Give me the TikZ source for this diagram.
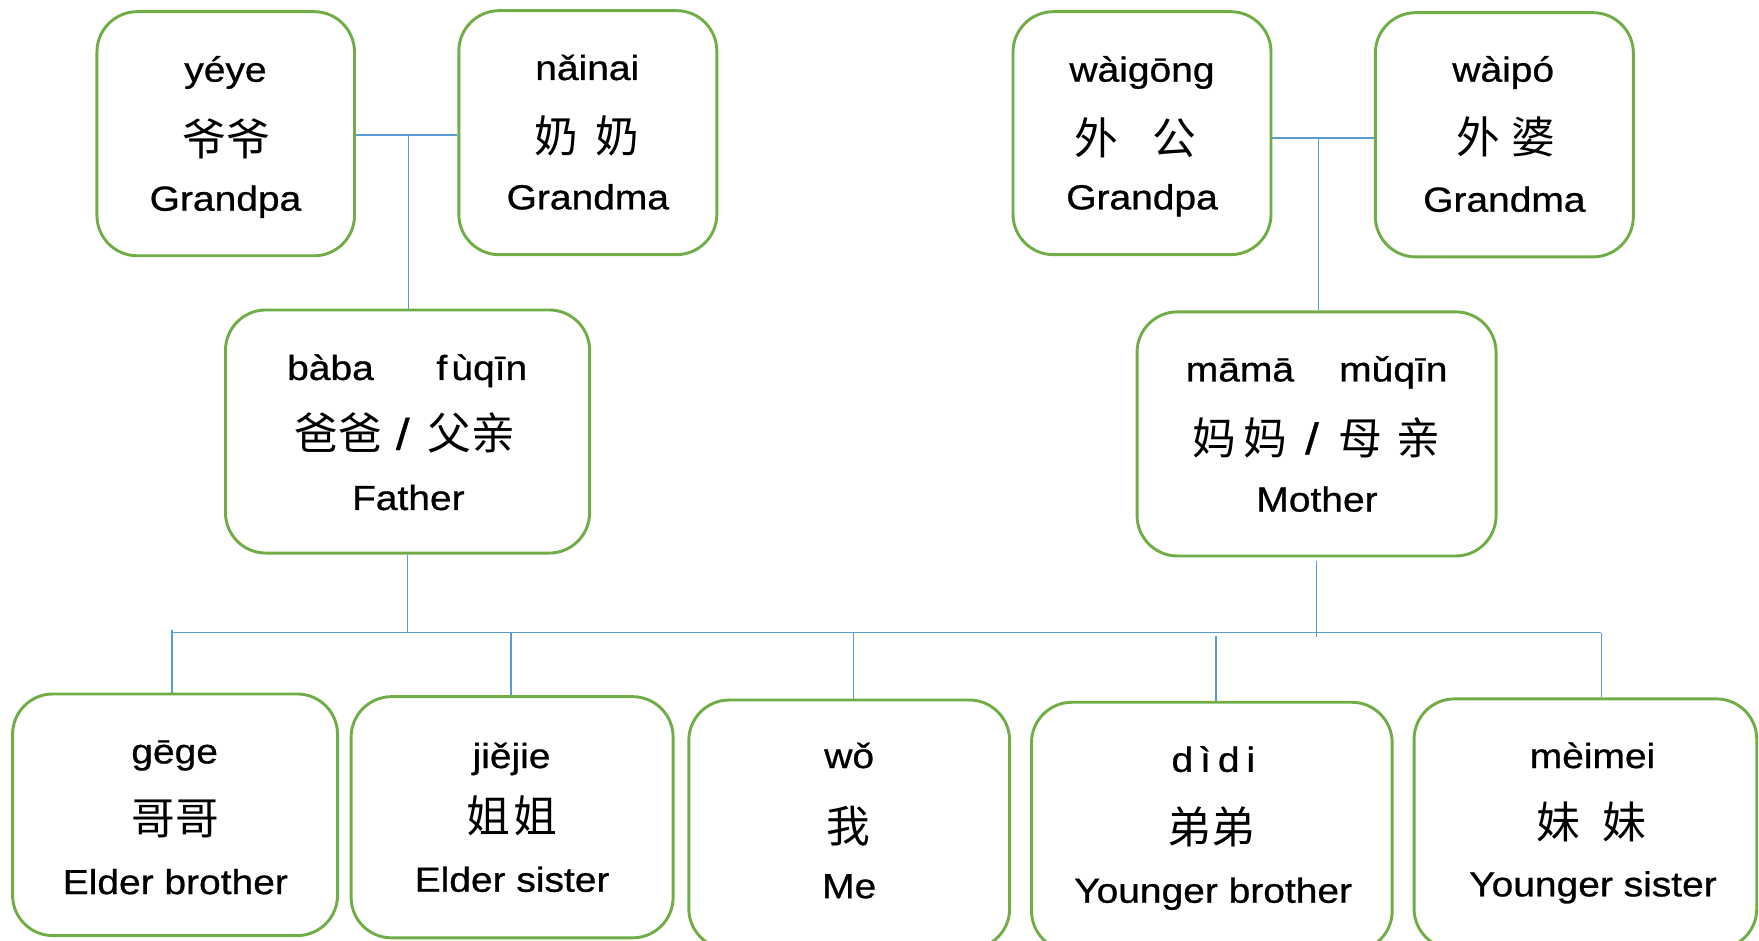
\documentclass[tikz,border=0pt]{standalone}
\usepackage{fontspec}
\setmainfont[FakeStretch=1.12,FakeBold=0.8]{Liberation Sans}
\newfontfamily\cjk{Noto Sans CJK SC}
\definecolor{boxgreen}{HTML}{70AD47}
\definecolor{lineblue}{HTML}{5B9BD5}
\tikzset{
  famb/.style={draw=boxgreen, line width=2.6pt, rounded corners=36pt, inner sep=0pt, fill=white},
  pin/.style={anchor=base, inner sep=0pt, font=\fontsize{31}{37}\selectfont},
  eng/.style={anchor=base, inner sep=0pt, font=\fontsize{31}{37}\selectfont},
  han/.style={inner sep=0pt, font=\cjk\fontsize{39}{45}\selectfont},
  link/.style={draw=lineblue, line width=1.4pt},
}
\begin{document}
\begin{tikzpicture}[x=1pt,y=-1pt]
\useasboundingbox[fill=white] (0,0) rectangle (1568,838);
% boxes
\node[famb, minimum width=229.6pt, minimum height=217.6pt] (yeye)   at (201.2,119.2) {};
\node[famb, minimum width=230pt,   minimum height=217.5pt] (nainai) at (524,118.25) {};
\node[famb, minimum width=230pt,   minimum height=216.6pt] (waigong) at (1018,118.7) {};
\node[famb, minimum width=230pt,   minimum height=217.7pt] (waipo)  at (1341,120.15) {};
\node[famb, minimum width=324.6pt, minimum height=216.7pt] (father) at (363.3,384.65) {};
\node[famb, minimum width=320pt,   minimum height=217.6pt] (mother) at (1173.6,386.8) {};
\node[famb, minimum width=289.7pt, minimum height=215.4pt] (gege)   at (156.05,726.3) {};
\node[famb, minimum width=287pt,   minimum height=215pt]   (jiejie) at (456.5,728.5) {};
\node[famb, minimum width=286pt,   minimum height=222pt]   (wo)     at (757,735) {};
\node[famb, minimum width=321.5pt, minimum height=222pt]   (didi)   at (1080.25,737) {};
\node[famb, minimum width=305.5pt, minimum height=223pt]   (meimei) at (1413.25,734.5) {};
% connector points
\coordinate (topL) at (364,120.3);
\coordinate (topR) at (1175.5,123);
\coordinate (barL) at (153.5,564);
\coordinate (barR) at (1427.5,564);
\coordinate (dJ) at (455.5,564);
\coordinate (dW) at (761,564);
\coordinate (dD) at (1084,566.5);
\coordinate (mLow) at (1173,567.5);
% connectors
\draw[link] (yeye.east |- topL) -- (nainai.west |- topL);
\draw[link] (topL) -- (topL |- father.north);
\draw[link] (waigong.east |- topR) -- (waipo.west |- topR);
\draw[link] (topR) -- (topR |- mother.north);
\draw[link] (father.south) -- (father.south |- barL);
\draw[link] ([yshift=-3pt]mother.south) -- (mother.south |- mLow);
\draw[link] (barL) -- (barR);
\draw[link] ([yshift=2.5pt]barL) -- (barL |- gege.north);
\draw[link] (dJ) -- (dJ |- jiejie.north);
\draw[link] (dW) -- (dW |- wo.north);
\draw[link] (dD) -- (dD |- didi.north);
\draw[link] (barR) -- (barR |- meimei.north);
% texts: top row
\node[pin] (yeyeP) at (201,72.8) {yéye};
\node[han] (yeyeC) at (202,123.5) {爷爷};
\node[eng] (yeyeE) at (201,187.8) {Grandpa};
\node[pin] (nainaiP) at (523.5,71.3) {nǎinai};
\node[han] (nainaiC) at (523,121) {奶\hspace{15pt}奶};
\node[eng] (nainaiE) at (524,186.6) {Grandma};
\node[pin] (waigongP) at (1018,72.8) {wàigōng};
\node[han] (waigongC) at (1012,122.5) {外\hspace{30pt}公};
\node[eng] (waigongE) at (1018,186.6) {Grandpa};
\node[pin] (waipoP) at (1340,72.8) {wàipó};
\node[han] (waipoC) at (1342,122) {外\hspace{10pt}婆};
\node[eng] (waipoE) at (1341,188.7) {Grandma};
% middle row
\node[pin] (fatherP) at (363,338.7) {bàba\hspace{1.8em}f\hspace{0.12em}ùqīn};
\node[han] (fatherC) at (361,386) {爸爸\hspace{12pt}{\rmfamily/}\hspace{16pt}父亲};
\node[eng] (fatherE) at (364,454.6) {Father};
\node[pin] (motherP) at (1173.7,340) {māmā\hspace{1.3em}mǔqīn};
\node[han] (motherC) at (1173.5,390) {妈\hspace{6pt}妈\hspace{16pt}{\rmfamily/}\hspace{18pt}母\hspace{12pt}亲};
\node[eng] (motherE) at (1174,456) {Mother};
% bottom row
\node[pin] (gegeP) at (155.7,680.5) {gēge};
\node[han] (gegeC) at (156,730) {哥哥};
\node[eng] (gegeE) at (156.3,797) {Elder brother};
\node[pin] (jiejieP) at (456,684.6) {jiějie};
\node[han] (jiejieC) at (456,727) {姐\hspace{3pt}姐};
\node[eng] (jiejieE) at (456.5,794.9) {Elder sister};
\node[pin] (woP) at (757,684.6) {wǒ};
\node[han] (woC) at (756,736) {我};
\node[eng] (woE) at (757,800.6) {Me};
\node[pin] (didiP) at (1081.6,688) {d\hspace{0.2em}ì\hspace{0.2em}d\hspace{0.2em}i};
\node[han] (didiC) at (1079.5,737.5) {弟弟};
\node[eng] (didiE) at (1081.4,804.7) {Younger brother};
\node[pin] (meimeiP) at (1419.6,684.6) {mèimei};
\node[han] (meimeiC) at (1418.8,733) {妹\hspace{20pt}妹};
\node[eng] (meimeiE) at (1420,799) {Younger sister};
\end{tikzpicture}
\end{document}
